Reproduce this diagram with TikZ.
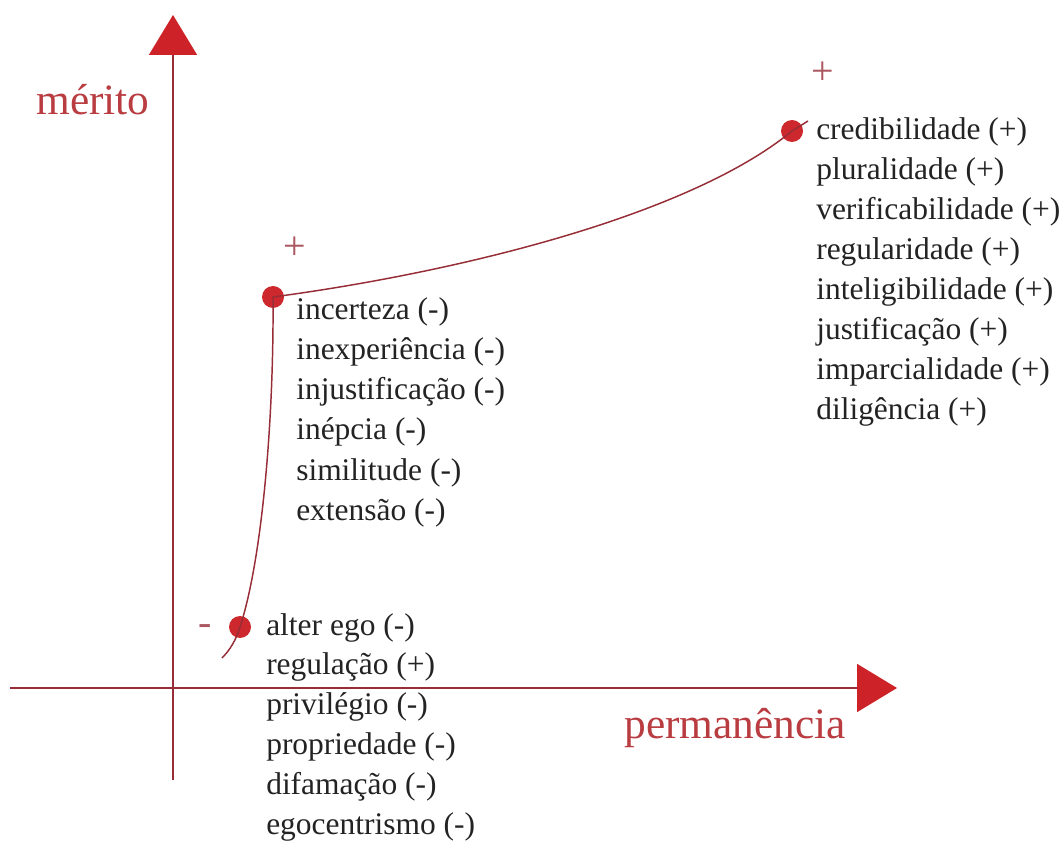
\documentclass[tikz,border=0pt]{standalone}
\usepackage{fontspec}
\setmainfont{Liberation Serif}
\usetikzlibrary{arrows.meta}

\definecolor{axisred}{RGB}{150,45,55}
\definecolor{tipred}{RGB}{205,35,40}
\definecolor{dotred}{RGB}{205,40,45}
\definecolor{labelred}{RGB}{185,60,65}
\definecolor{textgray}{RGB}{35,35,35}

\begin{document}
\begin{tikzpicture}[
    x=0.75pt, y=-0.75pt,
    axis/.style={axisred, line width=1.3pt,
        -{Triangle[length=30pt, width=36pt, fill=tipred, color=tipred]}},
    curve/.style={axisred, line width=1.1pt},
    dot/.style={circle, fill=dotred, inner sep=0pt, minimum size=16.5pt},
    item/.style={textgray, inner sep=0pt, anchor=base west,
        font=\fontsize{23.6}{27}\selectfont},
    sign/.style={axisred!80, inner sep=0pt, font=\fontsize{30}{34}\selectfont},
    axis label/.style={labelred, inner sep=0pt,
        font=\fontsize{32.5}{38}\selectfont},
]

\useasboundingbox (0,0) rectangle (1064,841);

% =============================================================================
% Axes
% =============================================================================
\coordinate (origem-x) at (10,688);
\coordinate (fim-x) at (897,688);
\coordinate (origem-y) at (173,780);
\coordinate (fim-y) at (173,15);

\draw[axis] (origem-x) -- (fim-x);
\draw[axis] (origem-y) -- (fim-y);

\node[axis label] (merito) at (93,100) {mérito};
\node[axis label] (permanencia) at (735,728) {permanência};

% =============================================================================
% Curve and points
% =============================================================================
\node[dot] (p1) at (240,627) {};
\node[dot] (p2) at (273,297) {};
\node[dot] (p3) at (792,131) {};

\coordinate (inicio) at (222,658);
\coordinate (fim) at (808,121);

\draw[curve] (inicio) .. controls (230,650) and (236,640) .. (p1.center)
    .. controls (262,560) and (274,420) .. (p2.center)
    .. controls (460,272) and (690,215) .. (p3.center) -- (fim);

% --- Signs ---
\node[sign] (menos) at (205,630) {-};
\node[sign] (mais-1) at (295,248) {+};
\node[sign] (mais-2) at (823,73) {+};

% =============================================================================
% Lists
% =============================================================================
\foreach \t [count=\i] in {alter ego (-), regulação (+), privilégio (-),
        propriedade (-), difamação (-), egocentrismo (-)} {
    \node[item] (baixo-\i) at (266,{635+39.8*(\i-1)}) {\t};
}

\foreach \t [count=\i] in {incerteza (-), inexperiência (-),
        injustificação (-), inépcia (-), similitude (-), extensão (-)} {
    \node[item] (meio-\i) at (296,{320+40*(\i-1)}) {\t};
}

\foreach \t [count=\i] in {credibilidade (+), pluralidade (+),
        verificabilidade (+), regularidade (+), inteligibilidade (+),
        justificação (+), imparcialidade (+), diligência (+)} {
    \node[item] (topo-\i) at (816,{140+40*(\i-1)}) {\t};
}

\end{tikzpicture}
\end{document}
